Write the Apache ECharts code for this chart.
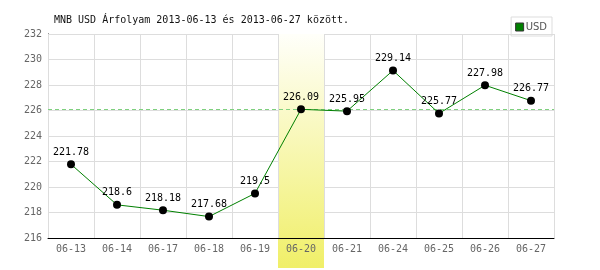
<!DOCTYPE html>
<html><head><meta charset="utf-8">
<script src="https://cdn.jsdelivr.net/npm/echarts@6/dist/echarts.min.js"></script>
<style>html,body{margin:0;padding:0;background:#fff}#c{width:600px;height:270px}</style>
</head><body><div id="c"></div>
<script>
const categories = ['06-13','06-14','06-17','06-18','06-19','06-20','06-21','06-24','06-25','06-26','06-27'];
const usdValues = [221.78, 218.6, 218.18, 217.68, 219.5, 226.09, 225.95, 229.14, 225.77, 227.98, 226.77];
const highlightIndex = 5;
const refValue = 226.09;
const titleText = 'MNB USD Árfolyam 2013-06-13 és 2013-06-27 között.';
const yMin = 216, yMax = 232, yStep = 2;

const mono = 'DejaVu Sans Mono';
const refColor = '#7fd07f';
const highlightData = categories.map((c, i) => i === highlightIndex ? 1 : null);

const chart = echarts.init(document.getElementById('c'), null, {renderer: 'canvas'});
chart.setOption({
  animation: false,
  backgroundColor: '#fff',
  title: {
    text: titleText, left: 54, top: 15, padding: 0,
    textStyle: {fontFamily: mono, fontSize: 10, fontWeight: 'normal', color: '#111'}
  },
  legend: {
    right: 48, top: 17, padding: [5, 5, 4, 4],
    borderColor: '#ddd', borderWidth: 1, itemWidth: 8, itemHeight: 8, itemGap: 2,
    textStyle: {fontFamily: 'DejaVu Sans', fontSize: 10, color: '#555', padding: [0,0,0,-3]},
    data: [{name: 'USD', icon: 'rect', itemStyle: {color: '#008000', borderColor: '#333', borderWidth: 1}}]
  },
  grid: [
    {left: 48, right: 46, top: 34, bottom: 32},
    {left: 48, right: 46, top: 34, bottom: 2}
  ],
  xAxis: [
    {type: 'category', data: categories, gridIndex: 0, z: 3, boundaryGap: true,
     axisLine: {lineStyle: {color: '#000', width: 1}}, axisTick: {show: false},
     axisLabel: {fontFamily: mono, fontSize: 10, color: '#666', margin: 6},
     splitLine: {show: true, lineStyle: {color: '#ddd'}}},
    {type: 'category', data: categories, gridIndex: 1, show: false, boundaryGap: true}
  ],
  yAxis: [
    {type: 'value', gridIndex: 0, min: yMin, max: yMax, interval: yStep, z: 0,
     axisLine: {show: true, lineStyle: {color: '#000'}}, axisTick: {show: false},
     axisLabel: {fontFamily: mono, fontSize: 10, color: '#666', margin: 6},
     splitLine: {lineStyle: {color: '#ddd'}}},
    {type: 'value', gridIndex: 1, min: 0, max: 1, show: false}
  ],
  series: [
    {
      name: 'highlight', type: 'bar', xAxisIndex: 1, yAxisIndex: 1, z: 1,
      data: highlightData, barWidth: '100%', silent: true, legendHoverLink: false,
      itemStyle: {color: new echarts.graphic.LinearGradient(0, 0, 0, 1, [
        {offset: 0, color: '#fffffa'}, {offset: 1, color: '#f0ef68'}])}
    },
    {
      name: 'USD', type: 'line', z: 5, data: usdValues,
      lineStyle: {color: '#008000', width: 1},
      itemStyle: {color: '#000'},
      symbol: 'circle', symbolSize: 8, showSymbol: true,
      label: {show: true, position: 'top', distance: 3, fontFamily: mono, fontSize: 10, color: '#000'},
      markLine: {
        silent: true, symbol: 'none', label: {show: false},
        itemStyle: {color: refColor},
        lineStyle: {color: refColor, type: [4, 3], width: 1, opacity: 1},
        data: [{yAxis: refValue, itemStyle: {color: refColor}, lineStyle: {color: refColor, type: [4, 3], width: 1}}]
      }
    }
  ]
});
</script></body></html>
